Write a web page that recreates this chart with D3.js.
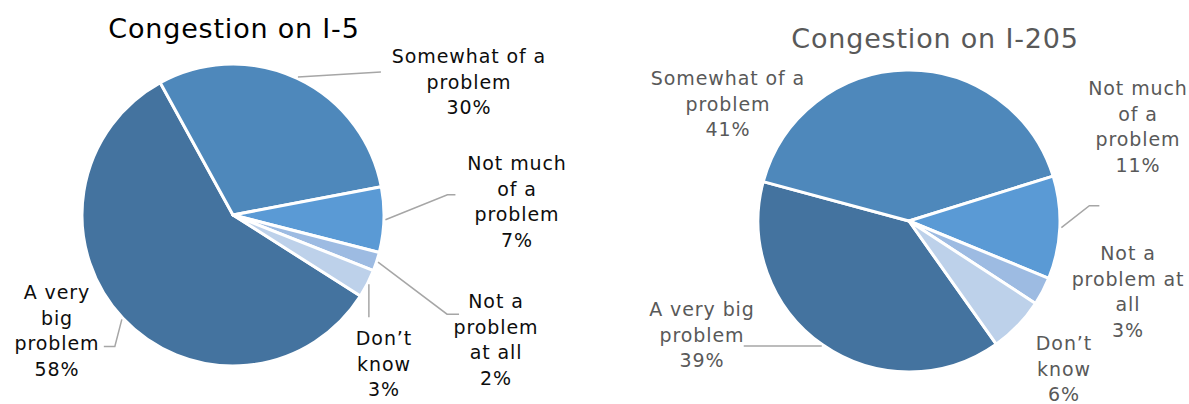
<!DOCTYPE html>
<html>
<head>
<meta charset="utf-8">
<script src="https://cdn.jsdelivr.net/npm/d3@7"></script>
<style>
  html, body { margin: 0; padding: 0; background: #fff; }
  svg { display: block; font-family: "DejaVu Sans", sans-serif; }
</style>
</head>
<body>
<svg id="chart" width="1189" height="404"></svg>
<script>
// Survey responses: how big a problem is congestion on each freeway
const categories = ["A very big problem", "Somewhat of a problem", "Not much of a problem", "Not a problem at all", "Don’t know"];
const valuesI5 = [58, 30, 7, 2, 3];
const valuesI205 = [39, 41, 11, 3, 6];
const titles = ["Congestion on I-5", "Congestion on I-205"];
// Wrapped label text for each category, per chart
const linesI5 = [["A very", "big", "problem"], ["Somewhat of a", "problem"], ["Not much", "of a", "problem"], ["Not a", "problem", "at all"], ["Don’t", "know"]];
const linesI205 = [["A very big", "problem"], ["Somewhat of a", "problem"], ["Not much", "of a", "problem"], ["Not a", "problem at", "all"], ["Don’t", "know"]];

const colors = d3.scaleOrdinal()
  .domain(categories)
  .range(["#44739f", "#4e88bb", "#5a9ad5", "#9dbbe2", "#bdd1ea"]);

const svg = d3.select("#chart");

// Layout for each pie: centre, radius, first-slice angle, title, label anchors and leader elbows
const charts = [
  {
    title: titles[0], values: valuesI5, lines: linesI5,
    cx: 233, cy: 215, r: 151, start: 122.4,
    titleX: 234, titleY: 38, titleColor: "#000", textColor: "#0d0d0d", lh: 25.6,
    labels: [
      { x: 57, y: 292, leader: [[-7, 27], [-18, 27]] },
      { x: 469, y: 56, leader: [[83, -5]] },
      { x: 517, y: 163, leader: [[62, -25], [70, -25]] },
      { x: 496, y: 301, leader: [[69, 52], [81, 52]] },
      { x: 384, y: 338, leader: [[0, 33]] }
    ]
  },
  {
    title: titles[1], values: valuesI205, lines: linesI205,
    cx: 909, cy: 221, r: 151, start: 144.7,
    titleX: 935, titleY: 48, titleColor: "#595959", textColor: "#595959", lh: 25.7,
    labels: [
      { x: 702, y: 309, leader: [[-78, 0]] },
      { x: 728, y: 78 },
      { x: 1138, y: 88, leader: [[28, -22], [38, -22]] },
      { x: 1128, y: 253 },
      { x: 1064, y: 343 }
    ]
  }
];

charts.forEach(c => {
  const a0 = c.start * Math.PI / 180;
  const pie = d3.pie().sort(null).value(d => d.value)
    .startAngle(a0).endAngle(a0 + 2 * Math.PI);
  const data = categories.map((cat, i) => ({ cat, value: c.values[i], lines: c.lines[i], lab: c.labels[i] }));
  const arcs = pie(data);
  const arc = d3.arc().innerRadius(0).outerRadius(c.r);

  const g = svg.append("g");

  g.append("text")
    .attr("x", c.titleX).attr("y", c.titleY)
    .attr("text-anchor", "middle")
    .attr("font-size", 27)
    .attr("letter-spacing", 0.8)
    .attr("fill", c.titleColor)
    .text(c.title);

  const pg = g.append("g").attr("transform", `translate(${c.cx},${c.cy})`);
  pg.selectAll("path.slice").data(arcs).join("path")
    .attr("class", "slice")
    .attr("d", arc)
    .attr("fill", d => colors(d.data.cat))
    .attr("stroke", "#fff")
    .attr("stroke-width", 3)
    .attr("stroke-linejoin", "round");

  // Leader lines: start on the rim at the slice's mid-angle, then bend toward the label
  arcs.forEach(d => {
    const lab = d.data.lab;
    if (!lab.leader) return;
    const mid = (d.startAngle + d.endAngle) / 2;
    const sx = (c.r + 1.5) * Math.sin(mid);
    const sy = -(c.r + 1.5) * Math.cos(mid);
    const pts = [[sx, sy]].concat(lab.leader.map(p => [sx + p[0], sy + p[1]]));
    pg.append("path")
      .attr("d", d3.line()(pts))
      .attr("fill", "none")
      .attr("stroke", "#a6a6a6")
      .attr("stroke-width", 1.5);
  });

  // Data labels: category lines plus the percentage
  arcs.forEach(d => {
    const lab = d.data.lab;
    const rows = d.data.lines.concat([d.data.value + "%"]);
    const t = g.append("text")
      .attr("text-anchor", "middle")
      .attr("font-size", 19)
      .attr("letter-spacing", 0.9)
      .attr("fill", c.textColor);
    rows.forEach((s, i) => {
      t.append("tspan")
        .attr("x", lab.x)
        .attr("y", lab.y + i * c.lh + 7)
        .text(s);
    });
  });
});
</script>
</body>
</html>
